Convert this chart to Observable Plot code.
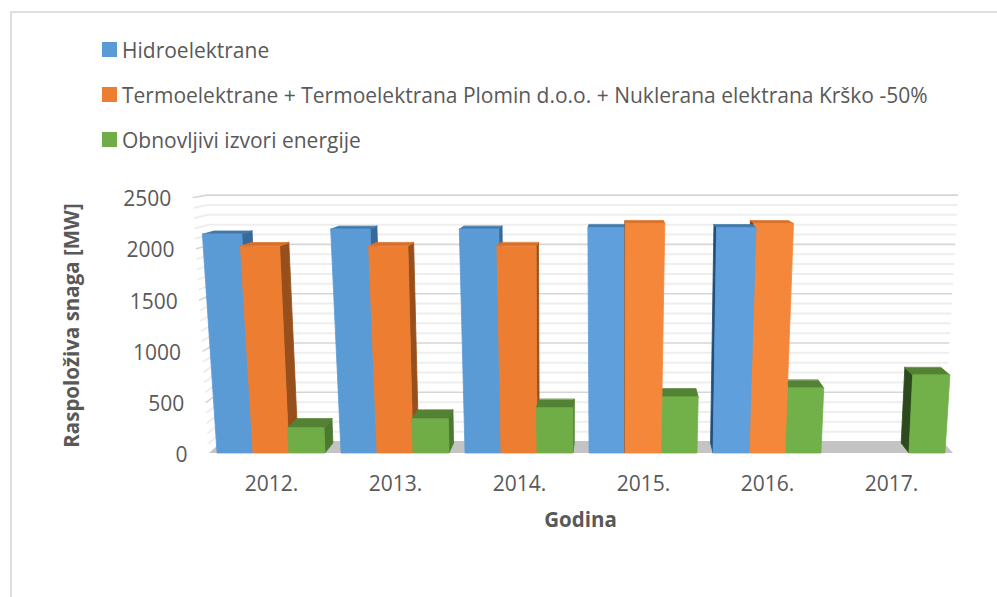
<!DOCTYPE html>
<html>
<head>
<meta charset="utf-8">
<script src="https://cdn.jsdelivr.net/npm/d3@7"></script>
<script src="https://cdn.jsdelivr.net/npm/@observablehq/plot@0.6"></script>
<style>
html,body{margin:0;padding:0;background:#fff;}
#page{position:relative;width:997px;height:597px;overflow:hidden;font-family:"Open Sans",sans-serif;color:#595959;}
#frame{position:absolute;left:10px;top:11px;right:-4px;bottom:-4px;border:2px solid #dedede;pointer-events:none;}
#legend{position:relative;height:170px;box-sizing:border-box;padding-top:27px;padding-left:102px;}
.row{display:flex;align-items:center;height:45px;font-size:21px;white-space:nowrap;}
.sw{width:15px;height:15px;margin-right:5px;flex:none;}
svg{display:block;}
</style>
</head>
<body>
<div id="page">
  <div id="frame"></div>
  <div id="legend"></div>
  <div id="chart"></div>
</div>
<script>
const years = ["2012.","2013.","2014.","2015.","2016.","2017."];
const seriesNames = ["Hidroelektrane","Termoelektrane + Termoelektrana Plomin d.o.o. + Nuklerana elektrana Krško -50%","Obnovljivi izvori energije"];
const hydro  = [2136,2185,2185,2200,2200,null];
const thermo = [2020,2020,2020,2240,2240,null];
const renew  = [245,332,440,546,634,761];
const series = [hydro,thermo,renew];
const frontColors = ["#5b9bd5","#ed7d31","#70ad47"];
const litColors   = ["#5f9fdc","#f5873a","#72b14a"];
const topColors   = ["#3f78ab","#d96f26","#548235"];
const rightColors = ["#37699a","#97501c","#4b7a2e"];
const leftColors  = ["#1f4e79","#7f3f12","#2d4a1c"];
const yTicks = [0,500,1000,1500,2000,2500];
const minorTicks = d3.range(0,2501,100).filter(v => v % 500 !== 0);

// perspective of the 3-D column chart, in data units (category index, MW)
const barWidth = 0.29, xMin = -0.5, xMax = 5.5;
const centre = 2.58, depthCentre = 2.82, paintCentre = 3;
function px(c, off, v, z){
  const front = c + (c-centre)*1.7e-5*v + off*(1+4.5e-5*v);
  return front + (depthCentre-front)*0.027*z;
}
function py(v, z){ return v + z*(97-0.031*v); }

const bars = [];
series.forEach((vals,s)=>vals.forEach((v,i)=>{
  if(v!=null) bars.push({c:i+(s-1)*barWidth, s, i, v});
}));
bars.sort((a,b)=>Math.abs(b.c-paintCentre)-Math.abs(a.c-paintCentre));

const faceRows = [];
let id = 0;
function quad(a1,b1,a2,b2,fill){ // a1-a2 upper edge, b1-b2 lower edge
  id++;
  faceRows.push({id,fill,x1:a1[0],y1:a1[1],x2:a2[0],y2:a2[1]});
  faceRows.push({id,fill,x1:b1[0],y1:b1[1],x2:b2[0],y2:b2[1]});
}
for(const b of bars){
  const h = barWidth/2, {c,v,s,i} = b;
  const P = (off,val,z)=>[px(c,off,val,z),py(val,z)];
  if(P(-h,v,1)[0] < P(-h,v,0)[0]) quad(P(-h,v,1),P(-h,0,1),P(-h,v,0),P(-h,0,0),leftColors[s]);
  if(P(h,v,1)[0] > P(h,v,0)[0])  quad(P(h,v,0),P(h,0,0),P(h,v,1),P(h,0,1),rightColors[s]);
  quad(P(-h,v,1),P(-h,v,0),P(h,v,1),P(h,v,0),topColors[s]);
  quad(P(-h,v,0),P(-h,0,0),P(h,v,0),P(h,0,0),i>=3?litColors[s]:frontColors[s]);
}

const wallZ = 1.2;
const gridRow = v => [
  {v,x:px(xMin,0,v,0),y:py(v,0)},
  {v,x:px(xMin,0,v,wallZ),y:py(v,wallZ)},
  {v,x:px(xMax,0,v,wallZ),y:py(v,wallZ)}
];
const floorRows = [
  {x1:px(xMin,0,0,wallZ),y1:py(0,wallZ),x2:px(xMax,0,0,wallZ),y2:py(0,wallZ)},
  {x1:px(xMin,0,0,0),y1:0,x2:px(xMax,0,0,0),y2:0}
];

const legend = document.getElementById("legend");
seriesNames.forEach((n,i)=>{
  const r = document.createElement("div"); r.className="row";
  const sw = document.createElement("span"); sw.className="sw"; sw.style.background=frontColors[i];
  const t = document.createElement("span"); t.textContent=n;
  r.append(sw,t); legend.append(r);
});

const chart = Plot.plot({
  width:997, height:427,
  marginTop:27, marginBottom:144, marginLeft:190, marginRight:27,
  x:{type:"linear",domain:[0,5],range:[271,891],axis:null},
  y:{domain:[0,2500],axis:null},
  style:{fontFamily:"'Open Sans',sans-serif",color:"#595959",background:"transparent",overflow:"visible"},
  marks:[
    Plot.area(floorRows,{x1:"x1",y1:"y1",x2:"x2",y2:"y2",fill:"#c4c4c4"}),
    Plot.line(minorTicks.flatMap(gridRow),{x:"x",y:"y",z:"v",stroke:"#eeeeee",strokeWidth:2}),
    Plot.line(yTicks.slice(1).flatMap(gridRow),{x:"x",y:"y",z:"v",stroke:"#d6d6d6",strokeWidth:1.6}),
    Plot.area(faceRows,{x1:"x1",y1:"y1",x2:"x2",y2:"y2",z:"id",fill:"fill",stroke:"fill",strokeWidth:0.8}),
    Plot.axisX({ticks:years.map((_,i)=>i),tickFormat:i=>years[i],tickSize:0,tickPadding:23,fontSize:21,label:null}),
    Plot.text(yTicks,{x:v=>px(xMin,0,v,0),y:v=>v,text:v=>String(v),textAnchor:"end",dx:-22,dy:2,fontSize:21,fill:"#595959"}),
    Plot.text(["Godina"],{frameAnchor:"bottom",dy:73,fontSize:20.5,fontWeight:700,fill:"#595959"}),
    Plot.text(["Raspoloživa snaga [MW]"],{frameAnchor:"left",textAnchor:"middle",dx:-118,rotate:-90,fontSize:20.5,fontWeight:700,fill:"#595959"})
  ]
});
document.getElementById("chart").append(chart);
</script>
</body>
</html>
